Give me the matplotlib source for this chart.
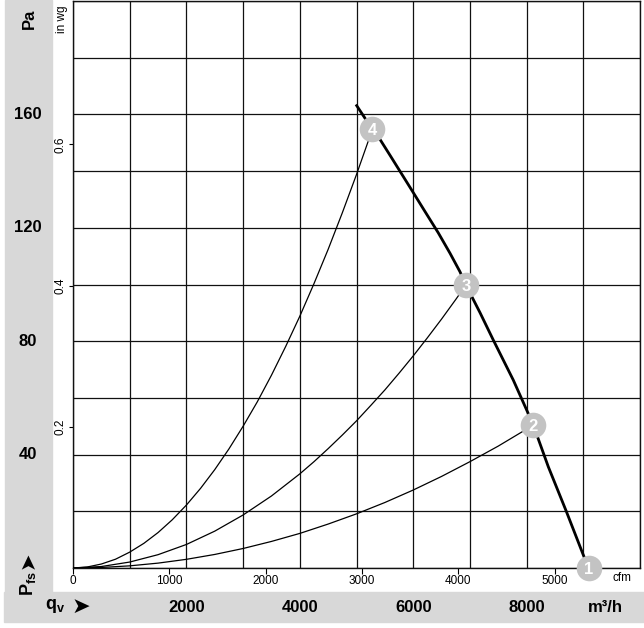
import matplotlib
matplotlib.use("Agg")
import matplotlib.pyplot as plt
from matplotlib.patches import Rectangle
import matplotlib.transforms as mtransforms

plt.rcParams['font.family'] = ['Liberation Sans', 'DejaVu Sans']
plt.rcParams['mathtext.fontset'] = 'custom'
plt.rcParams['mathtext.rm'] = 'Liberation Sans'
plt.rcParams['mathtext.bf'] = 'Liberation Sans:bold'
plt.rcParams['mathtext.it'] = 'Liberation Sans:italic'

# ---- data (flow in m3/h, pressure in Pa) ----
fan_q = [4990, 5280, 5414, 5600, 5974, 6200, 6443, 6650, 6825, 6930, 7180, 7413, 7765, 8002, 8118, 8383, 8700, 9000, 9100]
fan_p = [163.5, 154.7, 151.2, 145.3, 133.3, 126.0, 118.2, 111.0, 104.5, 99.8, 90.0, 80.4, 66.3, 55.7, 50.4, 35.7, 20.0, 4.6, 0.0]

sys4_q = [0, 250, 500, 750, 1000, 1250, 1500, 1750, 2000, 2250, 2500, 2750, 3000, 3250, 3500,
          3750, 4000, 4250, 4500, 4750, 5000, 5280]
sys4_p = [0, 0.35, 1.4, 3.1, 5.6, 8.7, 12.5, 17.0, 22.2, 28.1, 34.7, 42.0, 50.0, 58.6, 68.0,
          78.1, 88.8, 100.3, 112.4, 125.3, 138.8, 154.7]

sys3_q = [0, 500, 1000, 1500, 2000, 2500, 3000, 3500, 4000, 4250, 4500, 4750, 5000, 5250, 5500,
          5750, 6000, 6250, 6500, 6750, 6930]
sys3_p = [0, 0.52, 2.1, 4.7, 8.3, 13.0, 18.7, 25.4, 33.2, 37.5, 42.1, 46.9, 51.9, 57.3, 62.8,
          68.7, 74.8, 81.2, 87.8, 94.7, 99.8]

sys2_q = [0, 500, 1000, 1500, 2000, 2500, 3000, 3500, 4000, 4500, 5000, 5500, 6000, 6500, 7000, 7500, 8118]
sys2_p = [0, 0.19, 0.76, 1.72, 3.06, 4.78, 6.88, 9.37, 12.2, 15.5, 19.1, 23.1, 27.5, 32.3, 37.5, 43.0, 50.4]

point_labels = ['1', '2', '3', '4']
point_q = [9100, 8118, 6930, 5280]
point_p = [0.0, 50.4, 99.8, 154.7]

m3h_ticks = [2000, 4000, 6000, 8000]
pa_ticks = [40, 80, 120, 160]
cfm_ticks = [0, 1000, 2000, 3000, 4000, 5000]
inwg_ticks = [0.2, 0.4, 0.6]

W, H = 644, 628
fig = plt.figure(figsize=(W / 100, H / 100), dpi=100)
band = '#d8d8d8'
fig.patches.append(Rectangle((5 / W, 1 - 592 / H), 47 / W, 592 / H,
                             transform=fig.transFigure, color=band, zorder=-2))
fig.patches.append(Rectangle((4 / W, 1 - 622 / H), 640 / W, 30 / H,
                             transform=fig.transFigure, color=band, zorder=-2))

ax = fig.add_axes([73 / W, 1 - 568 / H, 567 / W, 567 / H])
ax.set_xlim(0, 10000)
ax.set_ylim(0, 200)
ax.set_xticks(range(0, 10001, 1000))
ax.set_yticks(range(0, 201, 20))
ax.grid(True, color='#111111', lw=0.9)
ax.tick_params(length=0, labelbottom=False, labelleft=False)
for s in ax.spines.values():
    s.set_color('#111111')
    s.set_linewidth(1.0)

ax.plot(sys4_q, sys4_p, color='black', lw=0.9, zorder=3)
ax.plot(sys3_q, sys3_p, color='black', lw=0.9, zorder=3)
ax.plot(sys2_q, sys2_p, color='black', lw=0.9, zorder=3)
ax.plot(fan_q, fan_p, color='black', lw=2.0, zorder=4, solid_capstyle='butt')

ax.scatter(point_q, point_p, s=340, color='#c3c3c3', zorder=5, clip_on=False, linewidths=0)
for lab, q, p in zip(point_labels, point_q, point_p):
    ax.text(q, p, lab, color='white', fontsize=12, fontweight='bold',
            ha='center', va='center_baseline', zorder=6, clip_on=False)

# secondary axes: cfm and in wg
CFM = 1.699011
sec_x = ax.secondary_xaxis('bottom', functions=(lambda q: q / CFM, lambda c: c * CFM))
sec_x.set_xticks(cfm_ticks)
sec_x.set_xticklabels([str(c) for c in cfm_ticks])
sec_x.tick_params(direction='out', length=4, width=0.8, pad=1, labelsize=8.5, colors='black')
sec_x.spines['bottom'].set_visible(False)

INWG = 249.0889
sec_y = ax.secondary_yaxis('left', functions=(lambda p: p / INWG, lambda w: w * INWG))
sec_y.set_yticks(inwg_ticks)
sec_y.set_yticklabels([str(w) for w in inwg_ticks], rotation=90, va='center')
sec_y.tick_params(direction='out', length=3, width=0.8, pad=2, labelsize=8.5)
sec_y.spines['left'].set_visible(False)

fig.text(622 / W, 1 - 578 / H, 'cfm', ha='center', va='center', fontsize=8.5)
fig.text(62 / W, 1 - 19 / H, 'in wg', rotation=90, ha='center', va='center', fontsize=8.5)

# main m3/h labels in bottom band
tb = mtransforms.blended_transform_factory(ax.transData, fig.transFigure)
for v in m3h_ticks:
    fig.text(v, 1 - 607 / H, str(v), transform=tb, ha='center', va='center',
             fontsize=12, fontweight='bold')
fig.text(605 / W, 1 - 607 / H, 'm³/h', ha='center', va='center', fontsize=12, fontweight='bold')
fig.text(55 / W, 1 - 606 / H, r'$\mathbf{q}_{\mathbf{v}}$', ha='center', va='center', fontsize=13)
fig.text(81 / W, 1 - 607 / H, '➤', ha='center', va='center', fontsize=16,
         family=['DejaVu Sans'])

# Pa labels in left band
tl = mtransforms.blended_transform_factory(fig.transFigure, ax.transData)
for v in pa_ticks:
    fig.text(28 / W, v, str(v), transform=tl, ha='center', va='center',
             fontsize=12, fontweight='bold')
fig.text(29 / W, 1 - 19 / H, 'Pa', rotation=90, ha='center', va='center',
         fontsize=12, fontweight='bold')
fig.text(28 / W, 1 - 584 / H, r'$\mathbf{P}_{\mathbf{fs}}$', rotation=90, ha='center', va='center',
         fontsize=13)
fig.text(28 / W, 1 - 560 / H, '➤', rotation=90, ha='center', va='center', fontsize=15,
         family=['DejaVu Sans'])

fig.savefig('out.png', dpi=100)
